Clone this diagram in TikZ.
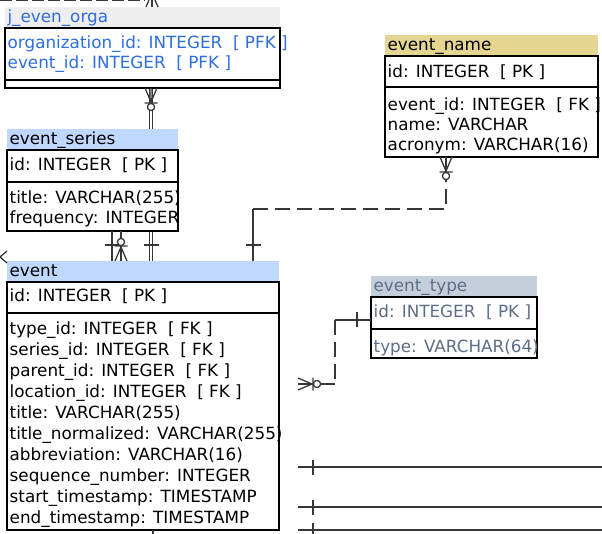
\documentclass[tikz,border=0pt]{standalone}
\usepackage{fontspec}
\setmainfont{DejaVu Sans}
\usetikzlibrary{positioning,backgrounds}

\definecolor{hdgrey}{RGB}{238,238,238}
\definecolor{hdblue}{RGB}{192,216,255}
\definecolor{hdsand}{RGB}{228,213,145}
\definecolor{hdslate}{RGB}{197,206,219}
\definecolor{txblue}{RGB}{45,110,225}
\definecolor{txslate}{RGB}{95,110,135}
\definecolor{linkgrey}{RGB}{55,55,55}

\tikzset{
  tblhead/.style={anchor=north west, fill=#1, inner xsep=2.5pt, inner ysep=0pt, outer sep=0pt,
    text height=16pt, text depth=5pt, align=left, font=\fontsize{16.8}{20}\selectfont},
  tblpart/.style={anchor=north west, draw=black, fill=white, line width=1.2pt, inner sep=0pt, outer sep=0pt},
  tbltext/.style={anchor=north west, inner sep=0pt, align=left, font=\fontsize{16.8}{20}\selectfont},
  link/.style={draw=linkgrey, line width=1.3pt},
  dlink/.style={link, dash pattern=on 15pt off 7pt},
  pics/zmany/.style={code={
    \draw[link] (-6,0) -- (0,14) -- (6,0) (0,0) -- (0,15.5) (-6.5,15) -- (6.5,15);
    \draw[link, fill=white] (0,19) circle (3.6);}},
  pics/onebar/.style={code={\draw[link] (-7.5,#1) -- (7.5,#1);}}
}

\begin{document}
\begin{tikzpicture}[x=1pt,y=-1pt]
\useasboundingbox (0,0) rectangle (602,534);

% tables
\node[tblhead=hdgrey, text width=270pt, text=txblue] (jeo_hd) at (5,7) {j\_even\_orga};
\node[tblpart, minimum width=275pt, minimum height=52pt, below right=0pt and 0pt of jeo_hd.south west] (jeo_pk) {};
\node[tblpart, minimum width=275pt, minimum height=8pt, below right=0pt and 0pt of jeo_pk.south west] (jeo_at) {};
\node[tbltext, text=txblue, below right=6pt and 2.5pt of jeo_pk.north west] (jeo_pk_t)
  {\strut organization\_id: INTEGER~~[ PFK ]\\event\_id: INTEGER~~[ PFK ]};

\node[tblhead=hdblue, text width=166pt] (es_hd) at (7,129) {event\_series};
\node[tblpart, minimum width=171pt, minimum height=32pt, below right=0pt and 0pt of es_hd.south west] (es_pk) {};
\node[tblpart, minimum width=171pt, minimum height=49pt, below right=0pt and 0pt of es_pk.south west] (es_at) {};
\node[tbltext, below right=6pt and 2.5pt of es_pk.north west] (es_pk_t) {\strut id: INTEGER~~[ PK ]};
\node[tbltext, below right=7pt and 2.5pt of es_at.north west] (es_at_t)
  {\strut title: VARCHAR(255)\\frequency: INTEGER};

\node[tblhead=hdblue, text width=267pt] (ev_hd) at (7,261) {event};
\node[tblpart, minimum width=272pt, minimum height=31pt, below right=0pt and 0pt of ev_hd.south west] (ev_pk) {};
\node[tblpart, minimum width=272pt, minimum height=217pt, below right=0pt and 0pt of ev_pk.south west] (ev_at) {};
\node[tbltext, below right=5pt and 2.5pt of ev_pk.north west] (ev_pk_t) {\strut id: INTEGER~~[ PK ]};
\node[tbltext, font=\fontsize{16.8}{21}\selectfont, below right=6.3pt and 2.5pt of ev_at.north west] (ev_at_t)
  {\strut type\_id: INTEGER~~[ FK ]\\series\_id: INTEGER~~[ FK ]\\parent\_id: INTEGER~~[ FK ]\\
   location\_id: INTEGER~~[ FK ]\\title: VARCHAR(255)\\title\_normalized: VARCHAR(255)\\
   abbreviation: VARCHAR(16)\\sequence\_number: INTEGER\\start\_timestamp: TIMESTAMP\\
   end\_timestamp: TIMESTAMP};

\node[tblhead=hdsand, text width=208pt] (en_hd) at (385,35) {event\_name};
\node[tblpart, minimum width=213pt, minimum height=31pt, below right=0pt and 0pt of en_hd.south west] (en_pk) {};
\node[tblpart, minimum width=213pt, minimum height=70pt, below right=0pt and 0pt of en_pk.south west] (en_at) {};
\node[tbltext, below right=7pt and 2.5pt of en_pk.north west] (en_pk_t) {\strut id: INTEGER~~[ PK ]};
\node[tbltext, below right=9pt and 2.5pt of en_at.north west] (en_at_t)
  {\strut event\_id: INTEGER~~[ FK ]\\name: VARCHAR\\acronym: VARCHAR(16)};

\node[tblhead=hdslate, text width=161pt, text=txslate] (et_hd) at (371,276) {event\_type};
\node[tblpart, minimum width=166pt, minimum height=32pt, below right=0pt and 0pt of et_hd.south west] (et_pk) {};
\node[tblpart, minimum width=166pt, minimum height=29pt, below right=0pt and 0pt of et_pk.south west] (et_at) {};
\node[tbltext, text=txslate, below right=6pt and 2.5pt of et_pk.north west] (et_pk_t) {\strut id: INTEGER~~[ PK ]};
\node[tbltext, text=txslate, below right=9pt and 2.5pt of et_at.north west] (et_at_t) {\strut type: VARCHAR(64)};

% bend points and loose ends
\coordinate (x_jl) at (149.5,0);
\coordinate (x_jm) at (151,0);
\coordinate (x_jr) at (152.5,0);
\coordinate (x_s1) at (112,0);
\coordinate (x_s2) at (121,0);
\coordinate (x_en) at (253,209);
\coordinate (x_en2) at (446,209);
\coordinate (x_en3) at (446,182);
\coordinate (x_et) at (335,320);
\coordinate (x_et2) at (335,384);
\coordinate (et_end) at (298,384);
\coordinate (x_bt) at (153,536);
\coordinate (t_top) at (152,-4);
\coordinate (t_dl) at (0,0.8);
\coordinate (t_dr) at (145,0.8);
\coordinate (l_a) at (0,257);
\coordinate (l_u) at (7,251);
\coordinate (l_d) at (7,263);
\coordinate (b1l) at (298,467);
\coordinate (b1r) at (604,467);
\coordinate (b2l) at (298,507);
\coordinate (b2r) at (604,507);
\coordinate (b3l) at (298,530);
\coordinate (b3r) at (604,530);

% links
\begin{pgfonlayer}{background}
  \draw[link] (x_jl |- jeo_at.south) -- (x_jl |- ev_hd.north);
  \draw[link] (x_jr |- jeo_at.south) -- (x_jr |- ev_hd.north);
\end{pgfonlayer}
\pic at (x_jm |- jeo_at.south) {zmany};
\pic[rotate=180] at (x_jm |- ev_hd.north) {onebar=16};

\draw[link] (x_s1 |- es_at.south) -- (x_s1 |- ev_hd.north);
\pic[rotate=180] at (x_s1 |- ev_hd.north) {onebar=16};
\draw[link] (x_s2 |- es_at.south) -- (x_s2 |- ev_hd.north);
\pic[rotate=180] at (x_s2 |- ev_hd.north) {zmany};

\draw[link] (x_en |- ev_hd.north) -- (x_en);
\draw[dlink] (x_en) -- (x_en2) -- (x_en3);
\draw[link] (x_en3) -- (x_en3 |- en_at.south);
\pic[rotate=180] at (x_en |- ev_hd.north) {onebar=16};
\pic at (x_en3 |- en_at.south) {zmany};

\draw[link] (x_et -| et_pk.west) -- (x_et);
\draw[dlink] (x_et) -- (x_et2);
\draw[link] (x_et2) -- (et_end);
\pic[rotate=-90] at (x_et -| et_pk.west) {onebar=14};
\pic[rotate=90] at (et_end) {zmany};

\draw[link] (b1l) -- (b1r);
\draw[link] (b2l) -- (b2r);
\draw[link] (b3l) -- (b3r);
\pic[rotate=90] at (b1l) {onebar=15};
\pic[rotate=90] at (b2l) {onebar=15};
\pic[rotate=90] at (b3l) {onebar=15};

\draw[link] (x_bt |- ev_at.south) -- (x_bt);
\draw[link] (t_top |- jeo_hd.north) -- (t_top);
\pic[rotate=180] at (t_top |- jeo_hd.north) {zmany};
\draw[link, dash pattern=on 12pt off 4pt] (t_dl) -- (t_dr);
\draw[link] (l_u) -- (l_a) -- (l_d);
\end{tikzpicture}
\end{document}
